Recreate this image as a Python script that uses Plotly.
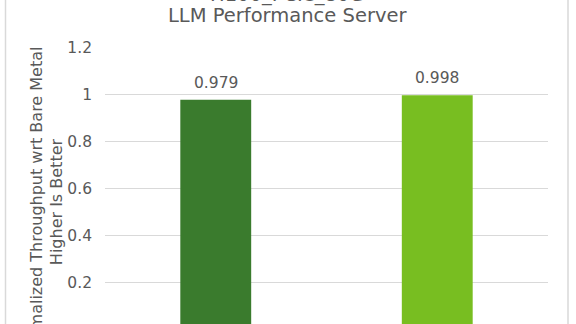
import plotly.graph_objects as go

categories = ["Bare Metal", "Virtualized"]
values = [0.979, 0.998]
value_labels = ["0.979", "0.998"]
bar_colors = ["#3A7B2D", "#78BE21"]
title_lines = ["H100_PCIe_80G", "LLM Performance Server"]
ytitle_lines = ["Normalized Throughput wrt Bare Metal", "Higher Is Better"]
y_ticks = [0, 0.2, 0.4, 0.6, 0.8, 1.0, 1.2]
y_tick_labels = ["0", "0.2", "0.4", "0.6", "0.8", "1", "1.2"]

W, H = 576, 324
ml, mr, mt, mb = 105, 28, 48, 0
pw, ph = W - ml - mr, H - mt - mb
ymax = 1.2
px_per_unit = 234.3
ymin = ymax - ph / px_per_unit

FONT = "DejaVu Sans"
GREY = "#595959"

fig = go.Figure()
fig.add_trace(go.Bar(
    x=categories, y=values, marker_color=bar_colors,
    marker_line_width=0, cliponaxis=False,
))

def px2px(x):
    return (x - ml) / pw

def py2py(y):
    return (H - mb - y) / ph

annotations = [
    dict(text=title_lines[0], xref="paper", yref="paper",
         x=px2px(287), y=py2py(-6), xanchor="center", yanchor="middle",
         showarrow=False, font=dict(family=FONT, size=19.5, color=GREY)),
    dict(text=title_lines[1], xref="paper", yref="paper",
         x=px2px(287), y=py2py(15.5), xanchor="center", yanchor="middle",
         showarrow=False, font=dict(family=FONT, size=19.5, color=GREY)),
    dict(text="<br>".join(ytitle_lines), xref="paper", yref="paper",
         x=px2px(46.5), y=py2py(202), xanchor="center", yanchor="middle",
         textangle=-90, showarrow=False,
         font=dict(family=FONT, size=16, color=GREY)),
    dict(text=y_tick_labels[0], xref="paper", yref="y", x=px2px(93), y=y_ticks[0],
         xanchor="right", yanchor="middle", showarrow=False,
         font=dict(family=FONT, size=15.5, color=GREY)),
]
for c, v, t in zip(categories, values, value_labels):
    annotations.append(dict(text=t, x=c, y=v, xref="x", yref="y",
                            xanchor="center", yanchor="bottom", yshift=6,
                            showarrow=False,
                            font=dict(family=FONT, size=15.5, color=GREY)))

fig.update_layout(
    width=W, height=H,
    margin=dict(l=ml, r=mr, t=mt, b=mb, pad=0),
    paper_bgcolor="white", plot_bgcolor="white",
    showlegend=False,
    bargap=0.68,
    font=dict(family=FONT, color=GREY),
    annotations=annotations,
    shapes=[
        dict(type="line", xref="paper", yref="paper", x0=px2px(5.5), x1=px2px(5.5),
             y0=-0.1, y1=1.3, line=dict(color="#D9D9D9", width=1.5)),
        dict(type="line", xref="paper", yref="paper", x0=px2px(568), x1=px2px(568),
             y0=-0.1, y1=1.3, line=dict(color="#D9D9D9", width=1.5)),
    ],
)
fig.update_yaxes(
    range=[ymin, ymax], tickvals=y_ticks, ticktext=y_tick_labels,
    showgrid=True, gridcolor="#D9D9D9", gridwidth=1,
    zeroline=False, showline=False, ticks="",
    tickfont=dict(family=FONT, size=15.5, color=GREY), ticklabelstandoff=12,
)
fig.update_xaxes(showgrid=False, zeroline=False, showline=False, ticks="",
                 showticklabels=False)

fig.write_html("out.html")
